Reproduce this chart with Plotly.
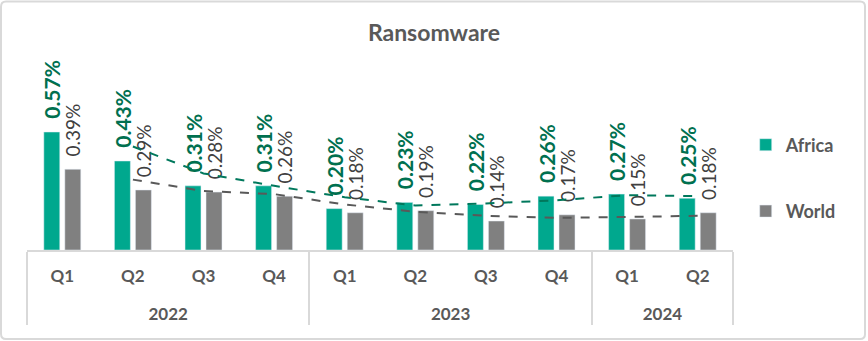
import pandas as pd
import plotly.graph_objects as go

# Quarterly ransomware detection share (%)
years = ["2022"] * 4 + ["2023"] * 4 + ["2024"] * 2
quarters = ["Q1", "Q2", "Q3", "Q4", "Q1", "Q2", "Q3", "Q4", "Q1", "Q2"]
africa = [0.57, 0.43, 0.31, 0.31, 0.20, 0.23, 0.22, 0.26, 0.27, 0.25]
world = [0.39, 0.29, 0.28, 0.26, 0.18, 0.19, 0.14, 0.17, 0.15, 0.18]

AFRICA_BAR = "#00A88E"
AFRICA_TXT = "#00704F"
WORLD_BAR = "#808080"
WORLD_TXT = "#404040"
AXIS_GREY = "#D9D9D9"
FONT = "Lato"

# axis labels are drawn at 17px on a taller line so the two rows sit further apart
SPAN = "<span style='font-size:17px'>{}</span>"
q_labels = [SPAN.format(q) + "<br>\u00a0" for q in quarters]
y_labels = [SPAN.format(y) for y in years]
x = [y_labels, q_labels]

# two-period moving-average trendlines
africa_ma = pd.Series(africa).rolling(2).mean()
world_ma = pd.Series(world).rolling(2).mean()
ma_x = [y_labels[1:], q_labels[1:]]

PAD = "\u00a0\u00a0"

fig = go.Figure()
fig.add_trace(go.Bar(
    x=x, y=africa, name="Africa", marker_color=AFRICA_BAR,
    text=[PAD + f"{v:.2f}%" for v in africa], textposition="outside",
    textangle=-90, constraintext="none", cliponaxis=False,
    textfont=dict(family=FONT, size=21, color=AFRICA_TXT, weight="bold"),
    legendgroup="a", hoverinfo="skip",
))
fig.add_trace(go.Bar(
    x=x, y=world, name="World", marker_color=WORLD_BAR,
    text=[PAD + f"{v:.2f}%" for v in world], textposition="outside",
    textangle=-90, constraintext="none", cliponaxis=False,
    textfont=dict(family=FONT, size=19, color=WORLD_TXT),
    legendgroup="w", hoverinfo="skip",
))
fig.add_trace(go.Scatter(
    x=ma_x, y=africa_ma.iloc[1:].tolist(), mode="lines",
    line=dict(color="#00785C", width=2, dash="dash"),
    showlegend=False, hoverinfo="skip", cliponaxis=False,
))
fig.add_trace(go.Scatter(
    x=ma_x, y=world_ma.iloc[1:].tolist(), mode="lines",
    line=dict(color="#595959", width=2, dash="dash"),
    showlegend=False, hoverinfo="skip", cliponaxis=False,
))

fig.update_layout(
    width=868, height=341,
    margin=dict(l=27, r=135, t=50, b=91),
    paper_bgcolor="white", plot_bgcolor="white",
    barmode="group", bargap=0.405, bargroupgap=0.24,
    title=dict(text="<b>Ransomware</b>", x=0.5, xref="container", xanchor="center",
               y=0.903, yanchor="middle",
               font=dict(family=FONT, size=23, color="#595959")),
    font=dict(family=FONT, color="#595959"),
    legend=dict(x=1.018, xanchor="left", y=0.36, yanchor="middle",
                traceorder="grouped", tracegroupgap=40,
                font=dict(family=FONT, size=18, color="#595959", weight="bold"),
                itemwidth=30),
    showlegend=True,
)
fig.update_xaxes(
    type="multicategory", showline=True, linecolor=AXIS_GREY, linewidth=1.5,
    showdividers=True, dividercolor=AXIS_GREY, dividerwidth=1.5,
    ticks="", showgrid=False, ticklabelstandoff=9,
    tickfont=dict(family=FONT, size=18, color="#595959", weight="bold"),
)
fig.update_yaxes(range=[0, 200 / 207], visible=False, showgrid=False)

# light rounded frame around the whole chart area (paper units: 706 x 200 px)
x0, x1, y0, y1 = -0.0368, 1.1870, -0.4450, 1.2425
rx, ry = 5 / 706, 5 / 200
frame = (
    f"M {x0 + rx},{y1} L {x1 - rx},{y1} Q {x1},{y1} {x1},{y1 - ry} "
    f"L {x1},{y0 + ry} Q {x1},{y0} {x1 - rx},{y0} "
    f"L {x0 + rx},{y0} Q {x0},{y0} {x0},{y0 + ry} "
    f"L {x0},{y1 - ry} Q {x0},{y1} {x0 + rx},{y1} Z"
)
fig.add_shape(type="path", xref="paper", yref="paper", path=frame,
              line=dict(color=AXIS_GREY, width=2), layer="below")

fig.write_html("out.html")
